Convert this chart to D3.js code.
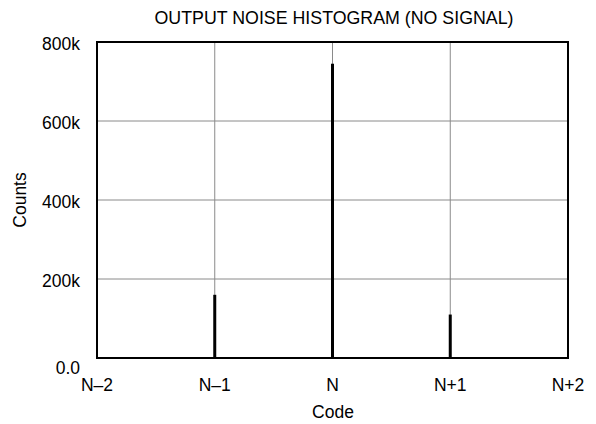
<!DOCTYPE html>
<html><head><meta charset="utf-8">
<script src="https://cdn.jsdelivr.net/npm/d3@7"></script>
<style>body{margin:0;background:#fff}svg{display:block}text{font-family:"Liberation Sans",Arial,sans-serif;fill:#000}</style>
</head><body><svg id="c" width="596" height="424"></svg>
<script>
const codes = ["N–2","N–1","N","N+1","N+2"];
const barCodes = ["N–1","N","N+1"];
const counts = [160000, 745000, 110000];
const yTicks = [0, 200000, 400000, 600000, 800000];
const yTickLabels = ["0.0","200k","400k","600k","800k"];

const svg = d3.select("#c");
const L=97, R=568, T=42, B=358;
const FS=17.5;
const x = d3.scalePoint().domain(codes).range([L,R]).padding(0);
const y = d3.scaleLinear().domain([0,800000]).range([B,T]);

// grid
svg.append("g").selectAll("line").data(codes.slice(1,-1)).join("line")
  .attr("x1",d=>x(d)).attr("x2",d=>x(d)).attr("y1",T).attr("y2",B)
  .attr("stroke","#8a8a8a").attr("stroke-width",1);
svg.append("g").selectAll("line").data(yTicks.slice(1,-1)).join("line")
  .attr("x1",L).attr("x2",R).attr("y1",d=>y(d)).attr("y2",d=>y(d))
  .attr("stroke","#8a8a8a").attr("stroke-width",1);

// bars
svg.append("g").selectAll("rect").data(barCodes).join("rect")
  .attr("x",d=>x(d)-1.5).attr("width",3)
  .attr("y",(d,i)=>y(counts[i])).attr("height",(d,i)=>y(0)-y(counts[i]))
  .attr("fill","#000");

// frame
svg.append("rect").attr("x",L).attr("y",T).attr("width",R-L).attr("height",B-T)
  .attr("fill","none").attr("stroke","#000").attr("stroke-width",2);

// y tick labels
svg.append("g").selectAll("text").data(yTicks).join("text")
  .attr("x",80).attr("y",d=>y(d)+(d===0?10:2)).attr("dy","0.35em")
  .attr("text-anchor","end").attr("font-size",FS)
  .text((d,i)=>yTickLabels[i]);

// x tick labels
svg.append("g").selectAll("text").data(codes).join("text")
  .attr("x",d=>x(d)).attr("y",385).attr("dy","0.35em")
  .attr("text-anchor","middle").attr("font-size",FS).text(d=>d);

svg.append("text").attr("x",333).attr("y",412).attr("dy","0.35em")
  .attr("text-anchor","middle").attr("font-size",FS).text("Code");
svg.append("text").attr("transform","translate(20,200) rotate(-90)").attr("dy","0.35em")
  .attr("text-anchor","middle").attr("font-size",FS).text("Counts");
svg.append("text").attr("x",334).attr("y",18).attr("dy","0.35em")
  .attr("text-anchor","middle").attr("font-size",17.8).text("OUTPUT NOISE HISTOGRAM (NO SIGNAL)");
</script></body></html>
